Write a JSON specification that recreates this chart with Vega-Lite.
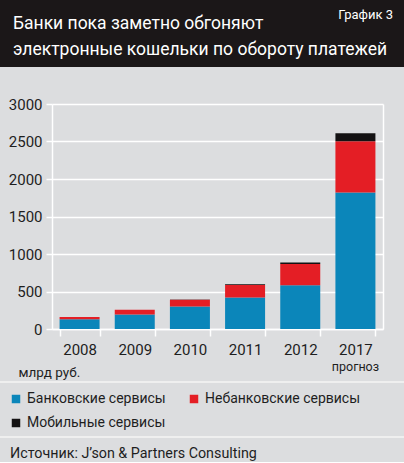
{
  "$schema": "https://vega.github.io/schema/vega-lite/v6.json",
  "padding": 0,
  "autosize": {"type": "pad"},
  "background": "#dcdddf",
  "title": {
    "text": ["Банки пока заметно обгоняют", "электронные кошельки по обороту платежей"],
    "anchor": "start", "frame": "group", "orient": "top",
    "offset": -58, "dx": 13, "lineHeight": 26,
    "color": "#ffffff", "fontSize": 17.5, "fontWeight": "normal"
  },
  "datasets": {
    "payments": [
      {"year": "2008", "type": "Банковские сервисы", "k": 1, "value": 130},
      {"year": "2008", "type": "Небанковские сервисы", "k": 2, "value": 30},
      {"year": "2008", "type": "Мобильные сервисы", "k": 3, "value": 0},
      {"year": "2009", "type": "Банковские сервисы", "k": 1, "value": 195},
      {"year": "2009", "type": "Небанковские сервисы", "k": 2, "value": 62},
      {"year": "2009", "type": "Мобильные сервисы", "k": 3, "value": 0},
      {"year": "2010", "type": "Банковские сервисы", "k": 1, "value": 300},
      {"year": "2010", "type": "Небанковские сервисы", "k": 2, "value": 90},
      {"year": "2010", "type": "Мобильные сервисы", "k": 3, "value": 5},
      {"year": "2011", "type": "Банковские сервисы", "k": 1, "value": 420},
      {"year": "2011", "type": "Небанковские сервисы", "k": 2, "value": 168},
      {"year": "2011", "type": "Мобильные сервисы", "k": 3, "value": 8},
      {"year": "2012", "type": "Банковские сервисы", "k": 1, "value": 585},
      {"year": "2012", "type": "Небанковские сервисы", "k": 2, "value": 282},
      {"year": "2012", "type": "Мобильные сервисы", "k": 3, "value": 20},
      {"year": "2017", "type": "Банковские сервисы", "k": 1, "value": 1820},
      {"year": "2017", "type": "Небанковские сервисы", "k": 2, "value": 685},
      {"year": "2017", "type": "Мобильные сервисы", "k": 3, "value": 105}
    ],
    "note": [{"year": "2017", "label": "прогноз"}]
  },
  "spacing": 0,
  "vconcat": [
    {
      "width": 404, "height": 67,
      "data": {"values": [{"part": "header"}]},
      "mark": {"type": "rect", "color": "#1b1718"},
      "view": {"stroke": null, "fill": "#1b1718"},
      "title": {
        "text": "График 3", "anchor": "end", "frame": "group", "orient": "top",
        "offset": -22, "dx": -11,
        "color": "#ffffff", "fontSize": 13, "fontWeight": "normal"
      }
    },
    {
      "width": 404, "height": 30,
      "data": {"values": [{"part": "gap"}]},
      "mark": {"type": "rect", "opacity": 0},
      "view": {"stroke": null}
    },
    {
      "width": 404, "height": 225,
      "view": {"stroke": null},
      "layer": [
        {
          "data": {"name": "payments"},
          "mark": {"type": "bar"},
          "encoding": {
            "x": {
              "field": "year", "type": "ordinal", "sort": null,
              "scale": {"range": [52, 383], "paddingInner": 0.275, "paddingOuter": 0.1375},
              "axis": {
                "title": null, "labelAngle": 0, "labelFontSize": 15, "labelColor": "#1e1e1e",
                "labelPadding": 6, "tickSize": 7, "tickColor": "#ffffff", "tickWidth": 1.5,
                "tickBand": "extent", "domainColor": "#ffffff", "domainWidth": 1.5, "grid": false
              }
            },
            "y": {
              "field": "value", "type": "quantitative", "stack": "zero",
              "scale": {"domain": [0, 3000], "nice": false},
              "axis": {
                "offset": -52,
                "values": [0, 500, 1000, 1500, 2000, 2500, 3000], "format": "d",
                "title": "млрд руб.", "titleAngle": 0, "titleAlign": "left", "titleBaseline": "middle",
                "titleX": -34, "titleY": 268, "titleFontSize": 13.5, "titleFontWeight": "normal", "titleColor": "#1e1e1e",
                "labelFontSize": 15, "labelColor": "#1e1e1e", "labelPadding": 4,
                "tickSize": 6, "tickColor": "#ffffff", "tickWidth": 1.5,
                "domainColor": "#ffffff", "domainWidth": 1.5,
                "grid": true, "gridColor": "#ffffff", "gridWidth": 1.5, "gridOpacity": 1
              }
            },
            "color": {
              "field": "type", "type": "nominal",
              "scale": {
                "domain": ["Банковские сервисы", "Небанковские сервисы", "Мобильные сервисы"],
                "range": ["#0b86ba", "#e41e25", "#141213"]
              },
              "legend": {
                "orient": "none", "legendX": 9, "legendY": 392,
                "title": null, "direction": "horizontal", "columns": 2,
                "symbolType": "square", "symbolSize": 72, "symbolStrokeWidth": 0, "symbolOpacity": 1,
                "labelFontSize": 14, "labelColor": "#1e1e1e", "labelOffset": 4,
                "rowPadding": 10, "columnPadding": 21, "padding": 0, "labelLimit": 300
              }
            },
            "order": {"field": "k"}
          }
        },
        {
          "data": {"name": "note"},
          "mark": {"type": "text", "fontSize": 12.5, "color": "#1e1e1e", "baseline": "middle"},
          "encoding": {
            "x": {"field": "year", "type": "ordinal", "sort": null},
            "y": {
              "datum": -507,
              "axis": {
                "orient": "right", "offset": -21, "title": null, "labels": false, "ticks": false,
                "grid": false, "domainColor": "#ffffff", "domainWidth": 1.5
              }
            },
            "text": {"field": "label"}
          }
        }
      ],
      "resolve": {"axis": {"y": "independent"}}
    },
    {
      "width": 404, "height": 2,
      "data": {"values": [{"part": "gap"}]},
      "mark": {"type": "rect", "opacity": 0},
      "view": {"stroke": null}
    },
    {
      "width": 404, "height": 2,
      "data": {"values": [{"part": "rule"}]},
      "mark": {"type": "rect", "color": "#efefef"},
      "view": {"stroke": null}
    },
    {
      "width": 404, "height": 53,
      "data": {"values": [{"part": "legend"}]},
      "mark": {"type": "rect", "opacity": 0},
      "view": {"stroke": null}
    },
    {
      "width": 404, "height": 2,
      "data": {"values": [{"part": "rule"}]},
      "mark": {"type": "rect", "color": "#efefef"},
      "view": {"stroke": null}
    },
    {
      "width": 404, "height": 24,
      "data": {"values": [{"part": "source"}]},
      "mark": {"type": "rect", "opacity": 0},
      "view": {"stroke": null},
      "title": {
        "text": "Источник: J’son & Partners Consulting", "anchor": "start", "frame": "group", "orient": "top",
        "offset": -23, "dx": 10,
        "color": "#1e1e1e", "fontSize": 14.3, "fontWeight": "normal"
      }
    }
  ],
  "resolve": {"scale": {"color": "shared"}, "legend": {"color": "shared"}},
  "config": {
    "font": "Roboto",
    "view": {"stroke": null},
    "bar": {"stroke": null}
  }
}
